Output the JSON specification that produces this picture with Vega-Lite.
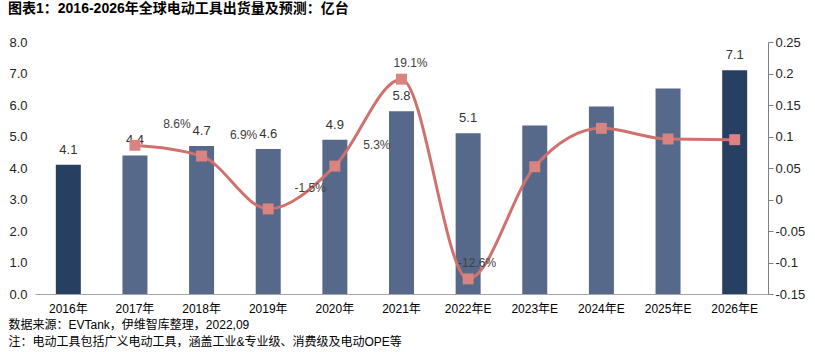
{
  "$schema": "https://vega.github.io/schema/vega-lite/v6.json",
  "width": 733,
  "height": 252,
  "autosize": {"type": "none"},
  "padding": {"left": 35, "top": 42, "right": 47, "bottom": 58},
  "background": "white",
  "title": {
    "text": "图表1：2016-2026年全球电动工具出货量及预测：亿台",
    "anchor": "start",
    "frame": "group",
    "dx": -27,
    "offset": 20,
    "fontSize": 14,
    "fontWeight": "bold",
    "font": "Liberation Sans, Noto Sans CJK SC, sans-serif",
    "color": "#000000"
  },
  "data": {
    "values": [
      {"year": "2016年", "volume": 4.1, "growth": null},
      {"year": "2017年", "volume": 4.4, "growth": 0.086},
      {"year": "2018年", "volume": 4.7, "growth": 0.069},
      {"year": "2019年", "volume": 4.6, "growth": -0.015},
      {"year": "2020年", "volume": 4.9, "growth": 0.053},
      {"year": "2021年", "volume": 5.8, "growth": 0.191},
      {"year": "2022年E", "volume": 5.1, "growth": -0.126},
      {"year": "2023年E", "volume": 5.35, "growth": 0.052},
      {"year": "2024年E", "volume": 5.95, "growth": 0.113},
      {"year": "2025年E", "volume": 6.52, "growth": 0.096},
      {"year": "2026年E", "volume": 7.1, "growth": 0.095}
    ]
  },
  "encoding": {
    "x": {
      "field": "year",
      "type": "nominal",
      "sort": null,
      "scale": {"paddingInner": 0.62, "paddingOuter": 0.31},
      "axis": {
        "labelAngle": 0,
        "ticks": false,
        "labelPadding": 9,
        "labelFontSize": 12,
        "labelColor": "#000000",
        "domainColor": "#a6a6a6",
        "title": ["数据来源：EVTank，伊维智库整理，2022,09", "注：电动工具包括广义电动工具，涵盖工业&专业级、消费级及电动OPE等"],
        "titleAlign": "left",
        "titleAnchor": "start",
        "titleX": -27,
        "titleY": 25,
        "titleBaseline": "top",
        "titleFontSize": 12,
        "titleFontWeight": "normal",
        "titleColor": "#000000",
        "titleLineHeight": 17
      }
    }
  },
  "layer": [
    {
      "encoding": {
        "y": {
          "field": "volume",
          "type": "quantitative",
          "scale": {"domain": [0, 8]},
          "axis": {
            "title": null,
            "format": ".1f",
            "values": [0, 1, 2, 3, 4, 5, 6, 7, 8],
            "labelOverlap": false,
            "grid": false,
            "ticks": false,
            "domain": false,
            "labelPadding": 8,
            "labelFontSize": 13,
            "labelColor": "#222222"
          }
        }
      },
      "layer": [
        {
          "mark": {"type": "bar", "size": 25},
          "encoding": {
            "color": {
              "condition": {"test": "datum.year === '2016年' || datum.year === '2026年E'", "value": "#273f60"},
              "value": "#56698a"
            }
          }
        },
        {
          "transform": [{"filter": {"field": "year", "oneOf": ["2016年", "2017年", "2018年", "2019年", "2020年", "2021年", "2022年E", "2026年E"]}}],
          "mark": {"type": "text", "dy": -15, "fontSize": 13, "color": "#333333", "font": "Liberation Sans, Noto Sans CJK SC, sans-serif"},
          "encoding": {
            "text": {"field": "volume", "type": "quantitative", "format": ".1f"}
          }
        }
      ]
    },
    {
      "encoding": {
        "y": {
          "field": "growth",
          "type": "quantitative",
          "scale": {"domain": [-0.15, 0.25]},
          "axis": {
            "orient": "right",
            "title": null,
            "values": [-0.15, -0.1, -0.05, 0, 0.05, 0.1, 0.15, 0.2, 0.25],
            "format": "~g",
            "labelOverlap": false,
            "grid": false,
            "domainColor": "#808080",
            "tickColor": "#808080",
            "tickSize": 5,
            "labelPadding": 2,
            "labelFontSize": 13,
            "labelColor": "#222222"
          }
        }
      },
      "layer": [
        {
          "mark": {"type": "line", "interpolate": "monotone", "color": "#d0716e", "strokeWidth": 3}
        },
        {
          "mark": {"type": "point", "shape": "square", "filled": true, "size": 120, "color": "#d98481", "opacity": 1}
        },
        {
          "transform": [{"filter": {"field": "year", "oneOf": ["2017年", "2018年", "2019年", "2020年"]}}],
          "mark": {"type": "text", "dx": 42, "dy": -21, "fontSize": 12, "color": "#404040", "font": "Liberation Sans, Noto Sans CJK SC, sans-serif"},
          "encoding": {
            "text": {"field": "growth", "type": "quantitative", "format": ".1%"}
          }
        },
        {
          "transform": [{"filter": {"field": "year", "oneOf": ["2021年", "2022年E"]}}],
          "mark": {"type": "text", "dx": 9, "dy": -16, "fontSize": 12, "color": "#404040", "font": "Liberation Sans, Noto Sans CJK SC, sans-serif"},
          "encoding": {
            "text": {"field": "growth", "type": "quantitative", "format": ".1%"}
          }
        }
      ]
    }
  ],
  "resolve": {"scale": {"y": "independent"}},
  "config": {
    "font": "Liberation Sans, Noto Sans CJK SC, sans-serif",
    "view": {"stroke": null},
    "locale": {"number": {"decimal": ".", "thousands": ",", "grouping": [3], "currency": ["$", ""], "minus": "-"}},
    "axis": {"labelFont": "Liberation Sans, Noto Sans CJK SC, sans-serif", "titleFont": "Liberation Sans, Noto Sans CJK SC, sans-serif"}
  }
}
